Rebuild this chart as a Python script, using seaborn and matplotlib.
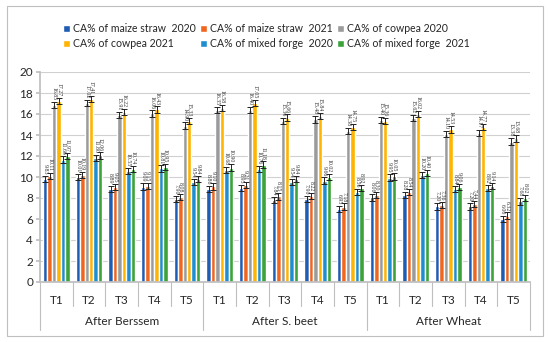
import numpy as np
import pandas as pd
import matplotlib
matplotlib.use("Agg")
import matplotlib.pyplot as plt
from matplotlib.patches import Rectangle
import seaborn as sns

groups = ["After Berssem", "After S. beet", "After Wheat"]
treatments = ["T1", "T2", "T3", "T4", "T5"]
series = [
    "CA% of maize straw  2020",
    "CA% of maize straw  2021",
    "CA% of cowpea 2020",
    "CA% of cowpea 2021",
    "CA% of mixed forge  2020",
    "CA% of mixed forge  2021",
]
colors = ["#1F5CB4", "#F0661E", "#9B9B9B", "#FFB400", "#1E8ED0", "#3BA33A"]

# values per series, 15 categories (Berssem T1-T5, S. beet T1-T5, Wheat T1-T5)
maize_2020 = [9.83, 10.01, 8.89, 9.09, 7.90, 8.86, 8.95, 7.84, 7.90, 6.95, 8.06, 8.28, 7.20, 7.20, 6.00]
maize_2021 = [10.11, 10.19, 9.05, 9.15, 8.08, 9.10, 9.21, 8.15, 8.22, 7.18, 8.30, 8.54, 7.36, 7.44, 6.32]
cowpea_2020 = [16.85, 17.02, 15.91, 16.06, 14.90, 16.35, 16.40, 15.36, 15.48, 14.38, 15.40, 15.62, 14.10, 14.17, 13.38]
cowpea_2021 = [17.27, 17.41, 16.22, 16.43, 15.33, 16.58, 17.05, 15.66, 15.84, 14.75, 15.36, 16.02, 14.53, 14.77, 13.68]
mixed_2020 = [11.66, 11.80, 10.55, 10.81, 9.54, 10.68, 10.76, 9.54, 9.66, 8.56, 9.95, 10.20, 8.84, 8.92, 7.68]
mixed_2021 = [11.97, 12.06, 10.74, 10.95, 9.84, 10.90, 11.18, 9.84, 10.02, 8.92, 10.05, 10.40, 9.06, 9.14, 8.02]
err = [0.3, 0.3, 0.3, 0.3, 0.3, 0.3]

values = [maize_2020, maize_2021, cowpea_2020, cowpea_2021, mixed_2020, mixed_2021]
cats = [f"{g}|{t}" for g in groups for t in treatments]

rows = []
for s, vals in zip(series, values):
    for c, v in zip(cats, vals):
        rows.append({"cat": c, "series": s, "value": v})
df = pd.DataFrame(rows)

sns.set_theme(style="white")
plt.rcParams["font.family"] = ["Lato", "DejaVu Sans"]

fig = plt.figure(figsize=(5.5, 3.42), dpi=100)
ax = fig.add_axes([40 / 550, 60 / 342, 490 / 550, 210 / 342])

sns.barplot(data=df, x="cat", y="value", hue="series", order=cats,
            hue_order=series, palette=colors, errorbar=None, width=0.82,
            saturation=1, ax=ax, legend=True)

for cont, e in zip(ax.containers, err):
    for bar in cont:
        x = bar.get_x() + bar.get_width() / 2
        h = bar.get_height()
        ax.errorbar(x, h, yerr=e, color="#222222", lw=0.7, capsize=2.0,
                    capthick=0.7)
        ax.text(x, h + e + 0.15, f"{h:.2f}", rotation=270, ha="center",
                va="bottom", fontsize=4.2, family="Liberation Serif",
                color="#333333")

ax.set_ylim(0, 20)
ax.set_xlim(-0.5, len(cats) - 0.5)
ax.set_yticks(range(0, 21, 2))
ax.yaxis.grid(True, color="#D0D0D0", lw=0.8)
ax.set_axisbelow(True)
ax.set_xlabel("")
ax.set_ylabel("")
ax.set_xticks(range(len(cats)))
ax.set_xticklabels(treatments * 3, fontsize=8.5)
ax.tick_params(axis="x", length=0, pad=9)
ax.tick_params(axis="y", labelsize=8.5, length=3, color="#BFBFBF",
               direction="out", left=True, pad=2)
for sp in ["top", "right"]:
    ax.spines[sp].set_visible(False)
ax.spines["left"].set_color("#BFBFBF")
ax.spines["bottom"].set_color("#BFBFBF")

# multi-level category axis
trans = ax.get_xaxis_transform()
for i in range(len(cats) + 1):
    xb = i - 0.5
    lo = -0.23 if i % 5 == 0 else -0.115
    ax.plot([xb, xb], [0, lo], transform=trans, color="#BFBFBF", lw=0.8,
            clip_on=False)
for gi, g in enumerate(groups):
    ax.text(gi * 5 + 2, -0.19, g, transform=trans, ha="center", va="center",
            fontsize=8.5)

handles, labels = ax.get_legend_handles_labels()
ax.legend_.remove()
order = [0, 3, 1, 4, 2, 5]
fig.legend([handles[i] for i in order], [labels[i] for i in order],
           loc="upper center", bbox_to_anchor=(0.485, 0.96), ncol=3,
           frameon=False, fontsize=7.6, handlelength=0.6, handleheight=0.6,
           handletextpad=0.35, columnspacing=0.4, labelspacing=0.35)

fig.patches.append(Rectangle((7 / 550, 6 / 342), 536 / 550, 330 / 342,
                             transform=fig.transFigure, fill=False,
                             edgecolor="#BFBFBF", lw=0.8))

fig.savefig("out.png", dpi=100)
